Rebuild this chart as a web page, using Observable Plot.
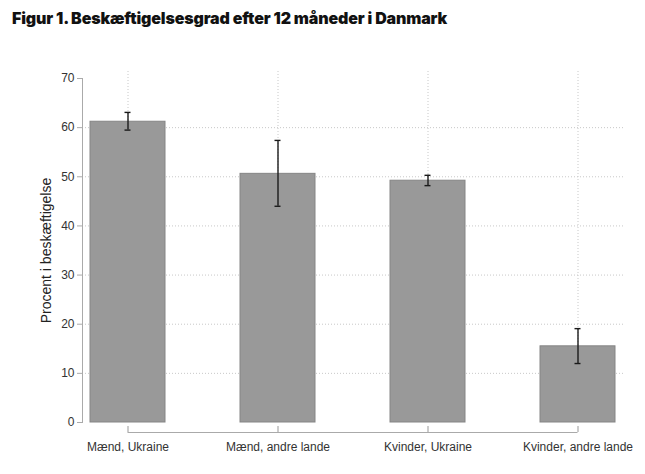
<!DOCTYPE html>
<html>
<head>
<meta charset="utf-8">
<script src="https://cdn.jsdelivr.net/npm/d3@7"></script>
<script src="https://cdn.jsdelivr.net/npm/@observablehq/plot@0.6"></script>
<style>
  body { margin: 0; background: #fff; }
  #title { height: 36px; line-height: 36px; padding-left: 12px; font-family: Inter, "Open Sans", sans-serif; font-weight: 900; font-size: 16px; letter-spacing: -0.15px; color: #111; white-space: nowrap; }
</style>
</head>
<body>
<div id="title">Figur 1. Beskæftigelsesgrad efter 12 måneder i Danmark</div>
<div id="chart"></div>
<script>
const categories = ["Mænd, Ukraine", "Mænd, andre lande", "Kvinder, Ukraine", "Kvinder, andre lande"];
const values = [61.2, 50.6, 49.2, 15.5];
const lower = [59.5, 44.0, 48.2, 12.0];
const upper = [63.1, 57.4, 50.3, 19.1];
const yTicks = [0, 10, 20, 30, 40, 50, 60, 70];
const gridTicks = [10, 20, 30, 40, 50, 60];
const yLabel = "Procent i beskæftigelse";

const data = categories.map((c, i) => ({cat: c, value: values[i], lo: lower[i], hi: upper[i]}));
const first = categories[0];
const last = categories[categories.length - 1];

const chart = Plot.plot({
  width: 645,
  height: 438,
  marginTop: 42,
  marginBottom: 52,
  marginLeft: 82,
  marginRight: 22,
  style: {fontFamily: "'Liberation Sans', Arial, sans-serif", fontSize: "12px", color: "#333", background: "#fff"},
  x: {domain: categories, type: "band", paddingInner: 0.5, paddingOuter: 0.053, axis: null},
  y: {domain: [0, 70], axis: null},
  marks: [
    Plot.gridY(gridTicks, {stroke: "#c8c8c8", strokeOpacity: 1, strokeDasharray: "1,2"}),
    Plot.gridX(categories, {stroke: "#c8c8c8", strokeOpacity: 1, strokeDasharray: "1,2", insetTop: -7}),
    Plot.frame({anchor: "left", stroke: "#aaa"}),
    Plot.axisY(yTicks, {tickSize: 5, tickPadding: 3, stroke: "#aaa", fill: "#333", fontSize: 12}),
    Plot.barY(data, {x: "cat", y: "value", fill: "#999999", stroke: "#858585", strokeWidth: 1}),
    Plot.ruleX(data, {x: "cat", y1: "lo", y2: "hi", stroke: "#1a1a1a", strokeWidth: 1.4}),
    Plot.tickY(data, {x: "cat", y: "lo", stroke: "#1a1a1a", strokeWidth: 1.4, insetLeft: 34.5, insetRight: 34.5}),
    Plot.tickY(data, {x: "cat", y: "hi", stroke: "#1a1a1a", strokeWidth: 1.4, insetLeft: 34.5, insetRight: 34.5}),
    Plot.ruleY([0], {y: d => d, x1: () => first, x2: () => last, dy: 10, insetLeft: 37.5, insetRight: 37.5, stroke: "#aaa", strokeWidth: 1.2}),
    Plot.axisX(categories, {tickSize: 6, dy: 4, tickPadding: 10, stroke: "#aaa", strokeWidth: 1.2, fill: "#333", fontSize: 12, label: null}),
    Plot.text([yLabel], {frameAnchor: "left", textAnchor: "middle", rotate: -90, dx: -36, fontSize: 14, fill: "#222"})
  ]
});
document.getElementById("chart").appendChild(chart);
</script>
</body>
</html>
